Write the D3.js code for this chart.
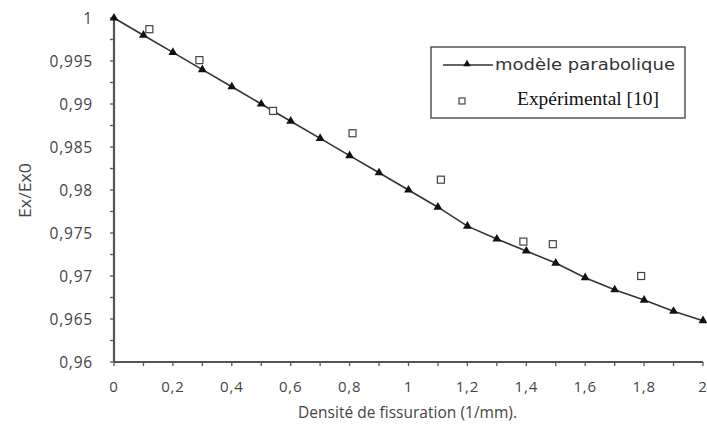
<!DOCTYPE html>
<html>
<head>
<meta charset="utf-8">
<script src="https://cdn.jsdelivr.net/npm/d3@7"></script>
<style>
  body { margin: 0; background: #fff; }
  text { font-family: "Open Sans", "Noto Sans", sans-serif; }
</style>
</head>
<body>
<div id="chart"></div>
<script>
// modèle parabolique (triangles)
let modelX = [0, 0.1, 0.2, 0.3, 0.4, 0.5, 0.6, 0.7, 0.8, 0.9, 1.0, 1.1, 1.2, 1.3, 1.4, 1.5, 1.6, 1.7, 1.8, 1.9, 2.0];
let modelY = [1.0, 0.998, 0.996, 0.994, 0.992, 0.990, 0.988, 0.986, 0.984, 0.982, 0.980, 0.978, 0.9758, 0.9743, 0.9729, 0.9715, 0.9698, 0.9684, 0.9672, 0.9659, 0.9648];
// Expérimental [10] (squares)
let expX = [0.12, 0.29, 0.54, 0.81, 1.11, 1.39, 1.49, 1.79];
let expY = [0.9987, 0.9951, 0.9892, 0.9866, 0.9812, 0.9740, 0.9737, 0.9700];

let xTicks = [0, 0.2, 0.4, 0.6, 0.8, 1, 1.2, 1.4, 1.6, 1.8, 2];
let yTicks = [0.96, 0.965, 0.97, 0.975, 0.98, 0.985, 0.99, 0.995, 1];

let width = 707, height = 430;
let m = {left: 114, right: 703, top: 18, bottom: 362};

let svg = d3.select("#chart").append("svg")
    .attr("width", width)
    .attr("height", height);

let x = d3.scaleLinear().domain([0, 2]).range([m.left, m.right]);
let y = d3.scaleLinear().domain([0.96, 1]).range([m.bottom, m.top]);

let fmt = d => String(+d.toFixed(3)).replace(".", ",");

// minor ticks
let xMinor = d3.range(0, 2.0001, 0.1);
let yMinor = d3.range(0.96, 1.0001, 0.0025);

svg.append("g").selectAll("line")
    .data(xMinor).enter().append("line")
    .attr("x1", d => x(d)).attr("x2", d => x(d))
    .attr("y1", m.bottom).attr("y2", m.bottom + 4)
    .attr("stroke", "#555").attr("stroke-width", 1.3);

svg.append("g").selectAll("line")
    .data(yMinor).enter().append("line")
    .attr("x1", m.left - 4).attr("x2", m.left)
    .attr("y1", d => y(d)).attr("y2", d => y(d))
    .attr("stroke", "#555").attr("stroke-width", 1.3);

// axes lines
svg.append("line")
    .attr("x1", m.left).attr("x2", m.right)
    .attr("y1", m.bottom).attr("y2", m.bottom)
    .attr("stroke", "#555").attr("stroke-width", 2.2);
svg.append("line")
    .attr("x1", m.left).attr("x2", m.left)
    .attr("y1", m.top).attr("y2", m.bottom)
    .attr("stroke", "#555").attr("stroke-width", 2.2);

// tick labels
svg.append("g").selectAll("text")
    .data(xTicks).enter().append("text")
    .attr("x", d => x(d)).attr("y", m.bottom + 30)
    .attr("text-anchor", "middle")
    .attr("font-size", 15)
    .attr("letter-spacing", 0.8)
    .attr("fill", "#444")
    .text(fmt);

svg.append("g").selectAll("text")
    .data(yTicks).enter().append("text")
    .attr("x", m.left - 21).attr("y", d => y(d) + 5.5)
    .attr("text-anchor", "end")
    .attr("font-size", 15.5)
    .attr("letter-spacing", 0.8)
    .attr("fill", "#444")
    .text(fmt);

// axis titles
svg.append("text")
    .attr("x", 298).attr("y", 418)
    .attr("font-size", 15.5)
    .attr("textLength", 219)
    .attr("fill", "#444")
    .text("Densité de fissuration (1/mm).");

svg.append("text")
    .attr("transform", "translate(31,218) rotate(-90)")
    .attr("font-size", 16)
    .attr("textLength", 55)
    .attr("lengthAdjust", "spacingAndGlyphs")
    .attr("fill", "#444")
    .text("Ex/Ex0");

// model line
let model = modelX.map((d, i) => ({x: d, y: modelY[i]}));
let line = d3.line().x(d => x(d.x)).y(d => y(d.y));

svg.append("path")
    .datum(model)
    .attr("d", line)
    .attr("fill", "none")
    .attr("stroke", "#333")
    .attr("stroke-width", 1.6);

let tri = d3.symbol().type(d3.symbolTriangle).size(34);

svg.append("g").selectAll("path")
    .data(model).enter().append("path")
    .attr("d", tri)
    .attr("transform", d => "translate(" + x(d.x) + "," + y(d.y) + ")")
    .attr("fill", "#111");

// experimental squares
let exp = expX.map((d, i) => ({x: d, y: expY[i]}));

svg.append("g").selectAll("rect")
    .data(exp).enter().append("rect")
    .attr("x", d => x(d.x) - 3.5)
    .attr("y", d => y(d.y) - 3.5)
    .attr("width", 7).attr("height", 7)
    .attr("fill", "#fff")
    .attr("stroke", "#444")
    .attr("stroke-width", 1.2);

// legend
let legend = svg.append("g");
legend.append("rect")
    .attr("x", 431).attr("y", 47)
    .attr("width", 254).attr("height", 71)
    .attr("fill", "#fff")
    .attr("stroke", "#555")
    .attr("stroke-width", 1.5);

legend.append("line")
    .attr("x1", 443).attr("x2", 493)
    .attr("y1", 65).attr("y2", 65)
    .attr("stroke", "#333").attr("stroke-width", 1.6);
legend.append("path")
    .attr("d", d3.symbol().type(d3.symbolTriangle).size(24))
    .attr("transform", "translate(467,64)")
    .attr("fill", "#111");
legend.append("text")
    .attr("x", 495).attr("y", 70)
    .attr("font-size", 16)
    .attr("textLength", 180)
    .attr("lengthAdjust", "spacingAndGlyphs")
    .attr("fill", "#333")
    .style("font-family", "'DejaVu Sans', Verdana, sans-serif")
    .text("modèle parabolique");

legend.append("rect")
    .attr("x", 459).attr("y", 98)
    .attr("width", 6).attr("height", 6)
    .attr("fill", "#fff")
    .attr("stroke", "#444")
    .attr("stroke-width", 1.2);
legend.append("text")
    .attr("x", 517).attr("y", 105)
    .attr("font-size", 18)
    .attr("textLength", 142)
    .attr("lengthAdjust", "spacingAndGlyphs")
    .attr("fill", "#111")
    .style("font-family", "'Liberation Serif', 'DejaVu Serif', serif")
    .text("Expérimental [10]");
</script>
</body>
</html>
